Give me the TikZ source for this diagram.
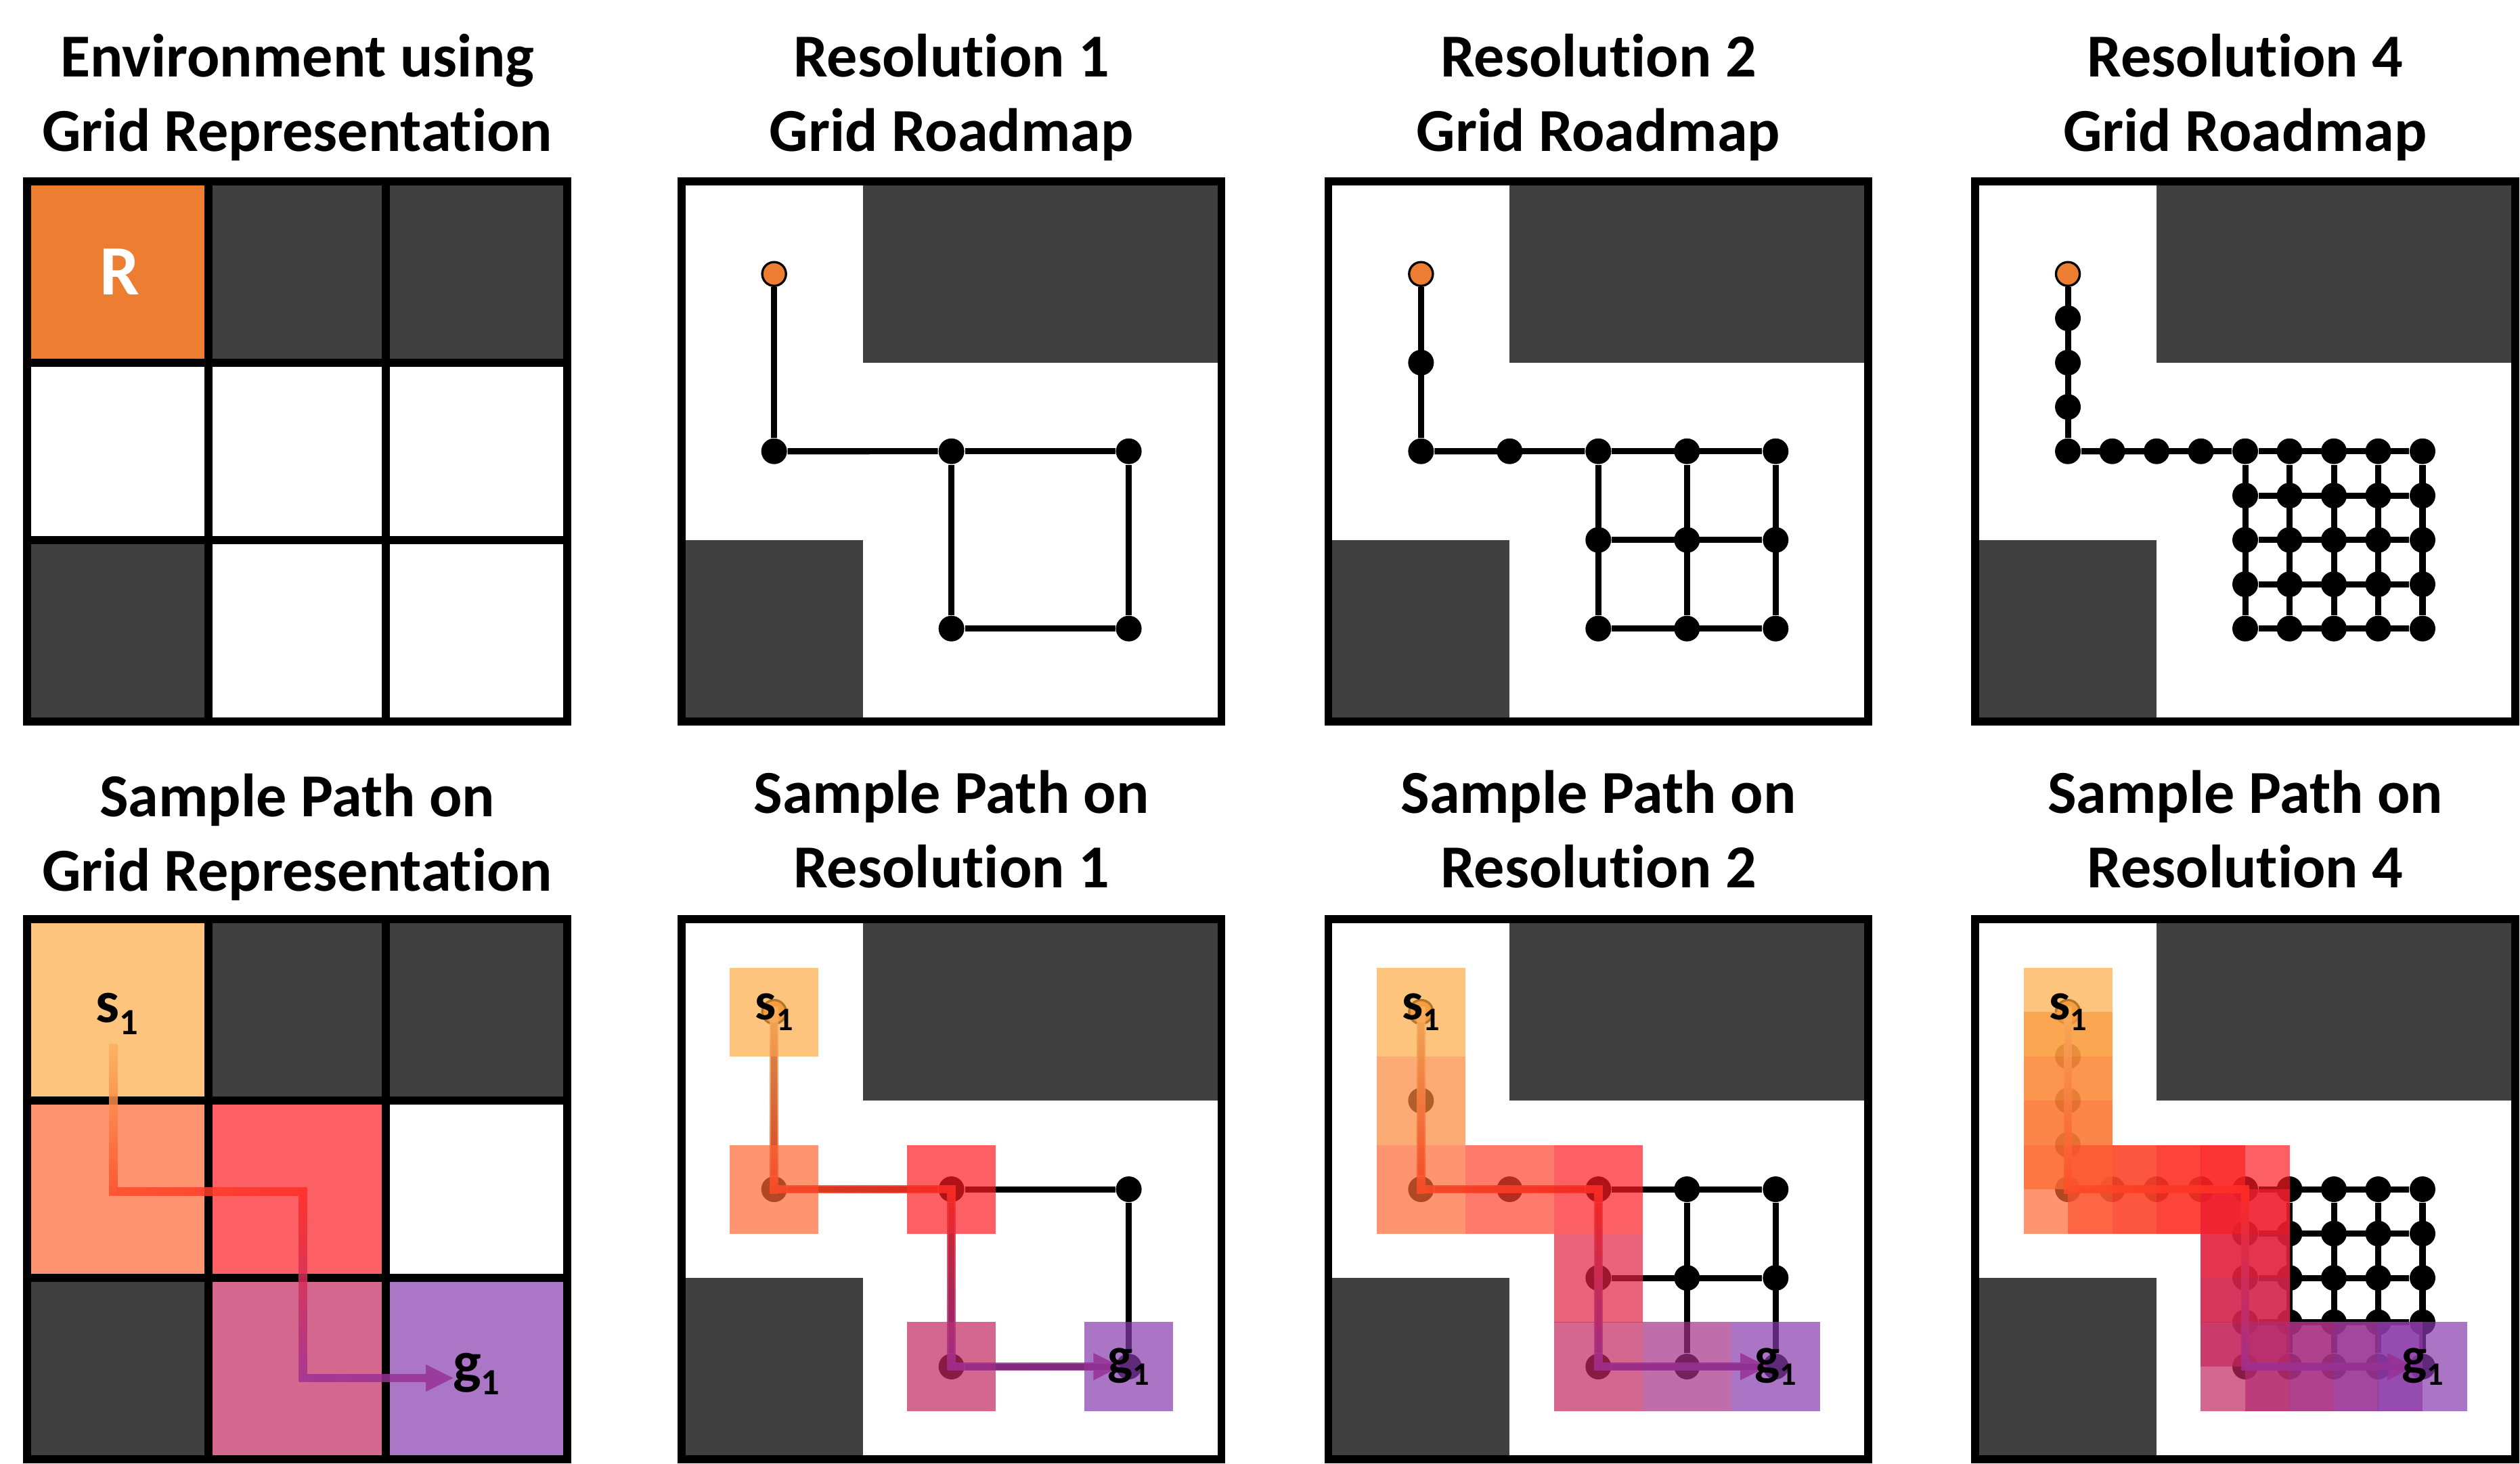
\documentclass[tikz,border=0pt]{standalone}
\usepackage{fontspec}
\setmainfont{Carlito}[Ligatures=NoCommon]
\usetikzlibrary{calc}

\definecolor{obst}{RGB}{64,64,64}
\definecolor{robor}{RGB}{237,125,49}
\definecolor{cA}{RGB}{252,196,124}
\definecolor{cB}{RGB}{254,148,112}
\definecolor{cC}{RGB}{253,96,100}
\definecolor{cD}{RGB}{212,104,143}
\definecolor{cE}{RGB}{171,118,197}
\definecolor{key0}{RGB}{251,171,68}
\definecolor{key1}{RGB}{254,102,51}
\definecolor{key2}{RGB}{252,28,34}
\definecolor{key3}{RGB}{194,39,95}
\definecolor{key4}{RGB}{135,59,172}
\definecolor{pA}{RGB}{250,178,95}
\definecolor{pB}{RGB}{255,75,40}
\definecolor{pC}{RGB}{255,45,38}
\definecolor{pM}{RGB}{235,35,60}
\definecolor{pD}{RGB}{160,48,148}
\definecolor{pE}{RGB}{150,50,150}

\newcommand{\lbl}[4]{\fontsize{#2}{#2}\selectfont\bfseries #1\raisebox{#4}{\fontsize{#3}{#3}\selectfont 1}}

\newcommand{\obstacles}{%
  \fill[obst] (115.33,5) rectangle (336,115.33);
  \fill[obst] (5,225.67) rectangle (115.33,336);
}

\newcommand{\roadmap}[2]{%
  \pgfmathsetmacro{\rmstep}{110.3333/#2}%
  \foreach \i in {0,...,#2}{%
    \foreach \j in {0,...,#2}{%
      \node[rnode] (#1-g-\i-\j) at ({170.5+\rmstep*\i},{170.5+\rmstep*\j}) {};%
    }%
  }%
  \foreach \m in {1,...,#2}{%
    \node[rnode] (#1-v-\m) at (60.17,{60.17+\rmstep*\m}) {};%
  }%
  \node[startnode] (#1-v-0) at (60.17,60.17) {};%
  \draw[redge] (#1-v-0) \foreach \m in {1,...,#2}{ -- (#1-v-\m)};%
  \ifnum#2>1\relax
    \pgfmathtruncatemacro{\rmkm}{#2-1}%
    \foreach \m in {1,...,\rmkm}{%
      \node[rnode] (#1-h-\m) at ({60.17+\rmstep*\m},170.5) {};%
    }%
    \draw[redge] (#1-v-#2) \foreach \m in {1,...,\rmkm}{ -- (#1-h-\m)} -- (#1-g-0-0);%
  \else
    \draw[redge] (#1-v-#2) -- (#1-g-0-0);%
  \fi
  \foreach \j in {0,...,#2}{%
    \draw[redge] (#1-g-0-\j) \foreach \i in {1,...,#2}{ -- (#1-g-\i-\j)};%
    \draw[redge] (#1-g-\j-0) \foreach \i in {1,...,#2}{ -- (#1-g-\j-\i)};%
  }%
}

\newcommand{\hsq}[3]{%
  \pgfmathtruncatemacro{\sqs}{min(floor(#2/#3),3)}%
  \pgfmathtruncatemacro{\sqn}{\sqs+1}%
  \pgfmathsetmacro{\sqp}{100-100*(#2-#3*\sqs)/#3}%
  \colorlet{sqc}{key\sqs!\sqp!key\sqn}%
  \fill[sqc,fill opacity=0.7] ($(#1)+(-27.6,-27.6)$) rectangle ($(#1)+(27.6,27.6)$);%
}

\newcommand{\samplesquares}[2]{%
  \foreach \m in {0,...,#2}{\hsq{#1-v-\m}{\m}{#2}}%
  \ifnum#2>1\relax
    \pgfmathtruncatemacro{\rmkm}{#2-1}%
    \foreach \m in {1,...,\rmkm}{\pgfmathtruncatemacro{\sqidx}{#2+\m}\hsq{#1-h-\m}{\sqidx}{#2}}%
  \fi
  \pgfmathtruncatemacro{\sqidx}{2*#2}\hsq{#1-g-0-0}{\sqidx}{#2}%
  \foreach \j in {1,...,#2}{\pgfmathtruncatemacro{\sqidx}{2*#2+\j}\hsq{#1-g-0-\j}{\sqidx}{#2}}%
  \foreach \i in {1,...,#2}{\pgfmathtruncatemacro{\sqidx}{3*#2+\i}\hsq{#1-g-\i-#2}{\sqidx}{#2}}%
}

\newcommand{\gradpath}[5]{%
  \begin{scope}[opacity=0.85]
  \shade[top color=pA,bottom color=pB] ($(#1)+(-2.5,0)$) rectangle ($(#2)+(2.5,2.5)$);
  \shade[left color=pB,right color=pC] ($(#2)+(2.5,-2.5)$) rectangle ($(#3)+(2.5,2.5)$);
  \shade[top color=pC,middle color=pM,bottom color=pD] ($(#3)+(-2.5,2.5)$) rectangle ($(#4)+(2.5,2.5)$);
  \shade[left color=pD,right color=pE] ($(#4)+(2.5,-2.5)$) rectangle ($(#5)+(-17,2.5)$);
  \fill[pE] (#5) -- ($(#5)+(-17,-8.5)$) -- ($(#5)+(-17,8.5)$) -- cycle;
  \end{scope}
}

\begin{document}
\begin{tikzpicture}[x=0.5pt,y=-0.5pt,
  panelborder/.style={draw=black,line width=2.5pt},
  gridline/.style={draw=black,line width=2.6pt},
  rnode/.style={circle,fill=black,inner sep=0pt,minimum size=8pt},
  startnode/.style={circle,fill=robor,draw=black,line width=0.7pt,inner sep=0pt,minimum size=7.4pt},
  redge/.style={line width=1.9pt},
  ttl/.style={align=center,font=\fontsize{19}{23.15}\selectfont\bfseries,inner sep=0pt},
  lab/.style={anchor=mid,inner sep=0pt},
]
\useasboundingbox (0,0) rectangle (1568,910.6);

% ---------- titles (anchor base = last line) ----------
\node[ttl,anchor=base] (tA) at (185,94.2) {Environment using\\Grid Representation};
\node[ttl,anchor=base] (tB) at (592,94.2) {Resolution 1\\Grid Roadmap};
\node[ttl,anchor=base] (tC) at (994.5,94.2) {Resolution 2\\Grid Roadmap};
\node[ttl,anchor=base] (tD) at (1397,94.2) {Resolution 4\\Grid Roadmap};
\node[ttl,anchor=base] (bA) at (185,554.5) {Sample Path on\\Grid Representation};
\node[ttl,anchor=base] (bB) at (592,552.4) {Sample Path on\\Resolution 1};
\node[ttl,anchor=base] (bC) at (994.5,552.4) {Sample Path on\\Resolution 2};
\node[ttl,anchor=base] (bD) at (1397,552.4) {Sample Path on\\Resolution 4};

% ---------- top row ----------
\begin{scope}[shift={(14.5,110.3)}]
  \fill[robor] (5,5) rectangle (115.33,115.33);
  \obstacles
  \node[text=white,font=\fontsize{22}{22}\selectfont\bfseries] (robot) at (60.17,59) {R};
  \draw[gridline] (115.33,2.5) -- (115.33,338.5);
  \draw[gridline] (225.67,2.5) -- (225.67,338.5);
  \draw[gridline] (2.5,115.33) -- (338.5,115.33);
  \draw[gridline] (2.5,225.67) -- (338.5,225.67);
  \draw[panelborder] (2.5,2.5) rectangle (338.5,338.5);
\end{scope}

\begin{scope}[shift={(421.5,110.3)}]
  \obstacles
  \roadmap{t1}{1}
  \draw[panelborder] (2.5,2.5) rectangle (338.5,338.5);
\end{scope}

\begin{scope}[shift={(824,110.3)}]
  \obstacles
  \roadmap{t2}{2}
  \draw[panelborder] (2.5,2.5) rectangle (338.5,338.5);
\end{scope}

\begin{scope}[shift={(1226.5,110.3)}]
  \obstacles
  \roadmap{t4}{4}
  \draw[panelborder] (2.5,2.5) rectangle (338.5,338.5);
\end{scope}

% ---------- bottom row ----------
\begin{scope}[shift={(14.5,569.5)}]
  \fill[cA] (5,5) rectangle (115.33,115.33);
  \obstacles
  \fill[cB] (5,115.33) rectangle (115.33,225.67);
  \fill[cC] (115.33,115.33) rectangle (225.67,225.67);
  \fill[cD] (115.33,225.67) rectangle (225.67,336);
  \fill[cE] (225.67,225.67) rectangle (336,336);
  \draw[gridline] (115.33,2.5) -- (115.33,338.5);
  \draw[gridline] (225.67,2.5) -- (225.67,338.5);
  \draw[gridline] (2.5,115.33) -- (338.5,115.33);
  \draw[gridline] (2.5,225.67) -- (338.5,225.67);
  \draw[panelborder] (2.5,2.5) rectangle (338.5,338.5);
  \coordinate (a-ps) at (56,80);
  \coordinate (a-c1) at (56,172);
  \coordinate (a-c2) at (174,172);
  \coordinate (a-c3) at (174,288);
  \coordinate (a-tip) at (267.5,288);
  \gradpath{a-ps}{a-c1}{a-c2}{a-c3}{a-tip}
  \node[lab] (a-slab) at (58.3,62) {\lbl{s}{18.5pt}{11.5pt}{-3.7pt}};
  \node[lab] (a-glab) at (282,286) {\lbl{g}{18.5pt}{11.5pt}{-3.7pt}};
\end{scope}

\begin{scope}[shift={(421.5,569.5)}]
  \obstacles
  \roadmap{b1}{1}
  \samplesquares{b1}{1}
  \coordinate (b1-ps) at ($(b1-v-0)+(0,-3)$);
  \coordinate (b1-tip) at ($(b1-g-1-1)+(-5,0)$);
  \gradpath{b1-ps}{b1-v-1}{b1-g-0-0}{b1-g-0-1}{b1-tip}
  \node[lab] (b1-slab) at (b1-v-0) {\lbl{s}{16.5pt}{10.2pt}{-3.3pt}};
  \node[lab] (b1-glab) at (b1-g-1-1) {\lbl{g}{16.5pt}{10.2pt}{-3.3pt}};
  \draw[panelborder] (2.5,2.5) rectangle (338.5,338.5);
\end{scope}

\begin{scope}[shift={(824,569.5)}]
  \obstacles
  \roadmap{b2}{2}
  \samplesquares{b2}{2}
  \coordinate (b2-ps) at ($(b2-v-0)+(0,-3)$);
  \coordinate (b2-tip) at ($(b2-g-2-2)+(-5,0)$);
  \gradpath{b2-ps}{b2-v-2}{b2-g-0-0}{b2-g-0-2}{b2-tip}
  \node[lab] (b2-slab) at (b2-v-0) {\lbl{s}{16.5pt}{10.2pt}{-3.3pt}};
  \node[lab] (b2-glab) at (b2-g-2-2) {\lbl{g}{16.5pt}{10.2pt}{-3.3pt}};
  \draw[panelborder] (2.5,2.5) rectangle (338.5,338.5);
\end{scope}

\begin{scope}[shift={(1226.5,569.5)}]
  \obstacles
  \roadmap{b4}{4}
  \samplesquares{b4}{4}
  \coordinate (b4-ps) at ($(b4-v-0)+(0,-3)$);
  \coordinate (b4-tip) at ($(b4-g-4-4)+(-5,0)$);
  \gradpath{b4-ps}{b4-v-4}{b4-g-0-0}{b4-g-0-4}{b4-tip}
  \node[lab] (b4-slab) at (b4-v-0) {\lbl{s}{16.5pt}{10.2pt}{-3.3pt}};
  \node[lab] (b4-glab) at (b4-g-4-4) {\lbl{g}{16.5pt}{10.2pt}{-3.3pt}};
  \draw[panelborder] (2.5,2.5) rectangle (338.5,338.5);
\end{scope}
\end{tikzpicture}
\end{document}
